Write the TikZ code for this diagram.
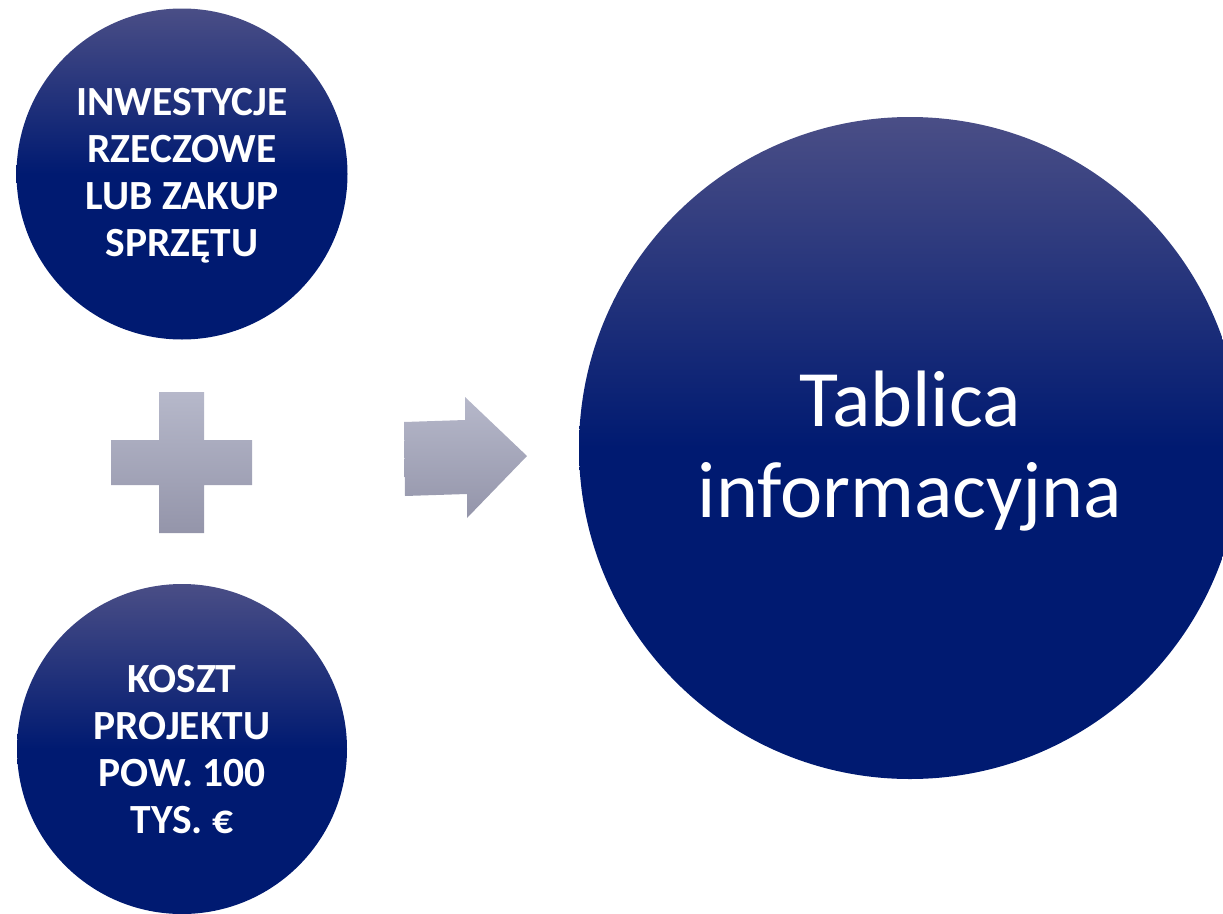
\documentclass[tikz,border=0pt]{standalone}
\usepackage{fontspec}
\setmainfont{Carlito}
\definecolor{navyL}{RGB}{74,78,134}
\definecolor{navyD}{RGB}{0,26,113}
\definecolor{grayL}{RGB}{182,184,202}
\definecolor{grayD}{RGB}{148,149,170}
\pgfdeclareverticalshading{navyshade}{100bp}{color(0bp)=(navyD); color(50bp)=(navyD); color(75bp)=(navyL); color(100bp)=(navyL)}
\pgfdeclareverticalshading{grayshade}{100bp}{color(0bp)=(grayD); color(25bp)=(grayD); color(75bp)=(grayL); color(100bp)=(grayL)}
\begin{document}
\begin{tikzpicture}[x=1pt,y=-1pt,
  disc/.style={circle, draw=none, inner sep=0pt, shading=navyshade},
  smalltxt/.style={text=white, align=center, inner sep=0pt, font=\fontsize{41.5}{47}\selectfont\bfseries},
  bigtxt/.style={text=white, align=center, inner sep=0pt, font=\fontsize{80}{91}\selectfont},
  sym/.style={shading=grayshade, draw=none}]
\useasboundingbox (0,0) rectangle (1223,913);
\clip (0,0) rectangle (1223,913);
\node[disc, minimum size=331pt] (c1) at (182,174) {};
\node[smalltxt] (t1) at (182,176) {INWESTYCJE\\RZECZOWE\\LUB ZAKUP\\SPRZĘTU};
\node[disc, minimum size=330pt] (c2) at (182,749) {};
\node[smalltxt] (t2) at (182,750) {KOSZT\\PROJEKTU\\POW. 100\\TYS. €};
\node[disc, minimum size=662pt] (c3) at (910,448) {};
\node[bigtxt] (t3) at (910,451) {Tablica\\informacyjna};
% plus sign
\path[sym] (159,392) -- (204,392) -- (204,440) -- (252,440) -- (252,485) -- (204,485) -- (204,533) -- (159,533) -- (159,485) -- (111,485) -- (111,440) -- (159,440) -- cycle;
% arrow
\path[sym] (404,422) -- (465,420) -- (465,397) -- (527,456) -- (467,518) -- (467,494) -- (405,496) -- cycle;
\end{tikzpicture}
\end{document}
